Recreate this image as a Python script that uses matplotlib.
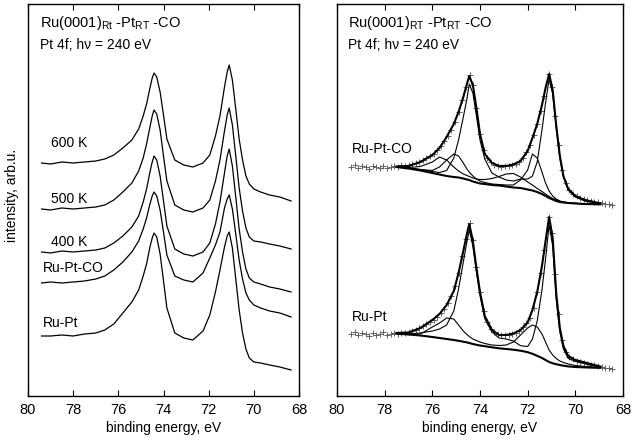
import matplotlib
matplotlib.use("Agg")
import matplotlib.pyplot as plt

plt.rcParams['font.family'] = ['Liberation Sans', 'DejaVu Sans']
plt.rcParams['mathtext.fontset'] = 'custom'
plt.rcParams['mathtext.rm'] = 'Liberation Sans'
plt.rcParams['mathtext.it'] = 'Liberation Sans:italic'
plt.rcParams['mathtext.default'] = 'regular'

# ---------------------------------------------------------------
# Left panel : Pt 4f spectra, offset (binding energy in eV)
# ---------------------------------------------------------------
energy_left = [79.4, 79.0, 78.5, 78.0, 77.5, 77.0, 76.6, 76.2, 75.8, 75.4, 75.1,
               74.9, 74.75, 74.6, 74.5, 74.42, 74.3, 74.15, 74.0, 73.85, 73.5,
               73.1, 72.7, 72.25, 71.95, 71.7, 71.5, 71.3, 71.18, 71.09, 70.95,
               70.8, 70.65, 70.5, 70.35, 70.2, 70.0, 69.7, 69.3, 68.85, 68.35]

spec_600K = [233, 232, 234, 233, 234, 235, 237, 241, 248, 256, 267, 280, 292, 308,
             318, 323, 319, 304, 281, 257, 236, 231, 229, 233, 241, 260, 280, 309,
             324, 331, 316, 287, 257, 236, 220, 212, 207, 204, 201, 199, 195]
spec_500K = [187, 186, 188, 187, 188, 189, 191, 196, 204, 213, 225, 238, 252, 269,
             280, 286, 282, 266, 240, 215, 191, 186, 184, 188, 196, 215, 236, 265,
             281, 288, 271, 240, 208, 185, 168, 159, 155, 154, 152, 150, 147]
spec_400K = [144, 143, 145, 144, 145, 146, 148, 153, 160, 169, 180, 194, 207, 224,
             234, 240, 236, 220, 195, 170, 147, 142, 140, 144, 153, 172, 194, 223,
             240, 247, 230, 199, 167, 144, 127, 118, 114, 112, 109, 107, 104]
spec_rupt_co = [113, 114, 113, 114, 115, 117, 120, 126, 134, 144, 155, 167, 178, 192,
                200, 204, 200, 186, 164, 141, 120, 116, 114, 123, 138, 151, 164, 188,
                197, 201, 187, 162, 136, 117, 103, 96, 91, 88, 85, 83, 79]
spec_rupt = [60, 60, 61, 60, 62, 63, 66, 72, 83, 94, 106, 120, 132, 149,
             158, 163, 159, 142, 115, 88, 63, 58, 56, 65, 81, 104, 126, 149,
             160, 164, 148, 117, 86, 63, 47, 38, 34, 33, 31, 29, 26]

left_labels = ["600 K", "500 K", "400 K", "Ru-Pt-CO", "Ru-Pt"]
left_label_x = [79.0, 79.0, 79.0, 79.35, 79.35]
left_label_y = [253, 197, 154, 128, 73]

# ---------------------------------------------------------------
# Right panel : measured points + fit (background and components)
# ---------------------------------------------------------------
energy_pts = [79.4, 79.25, 79.1, 78.95, 78.8, 78.65, 78.5, 78.35, 78.2, 78.05, 77.9,
              77.75, 77.6, 77.45, 77.3, 77.15, 77.0, 76.85, 76.7, 76.55, 76.4, 76.25,
              76.1, 75.95, 75.8, 75.65, 75.5, 75.35, 75.2, 75.05, 74.9, 74.75, 74.6,
              74.42, 74.3, 74.15, 74.0, 73.85, 73.7, 73.55, 73.4, 73.25, 73.1, 72.95,
              72.8, 72.65, 72.5, 72.35, 72.2, 72.05, 71.9, 71.75, 71.6, 71.45, 71.3,
              71.1, 71.0, 70.85, 70.7, 70.55, 70.4, 70.25, 70.1, 69.95, 69.8, 69.65,
              69.5, 69.35, 69.2, 69.05, 68.9, 68.75, 68.6, 68.45]

pts_rupt_co = [229, 231, 228, 230, 229, 227, 230, 229, 228, 230, 228, 229, 230, 229,
               231, 230, 231, 232, 233, 234, 236, 238, 240, 242, 246, 250, 255, 260,
               266, 274, 284, 296, 309, 321, 311, 288, 262, 246, 238, 234, 231, 230,
               229, 230, 230, 231, 232, 234, 238, 244, 251, 261, 272, 285, 300, 322,
               309, 280, 251, 226, 213, 206, 202, 200, 198, 197, 196, 195, 194, 194,
               193, 192, 192, 191]
pts_rupt = [62, 64, 61, 63, 62, 60, 63, 61, 62, 64, 61, 62, 63, 62, 63, 63, 64, 65,
            66, 68, 70, 72, 74, 76, 79, 83, 87, 93, 100, 110, 123, 140, 157, 173, 156,
            129, 104, 85, 74, 67, 64, 62, 61, 61, 61, 62, 63, 65, 69, 73, 78, 88, 104,
            123, 146, 179, 163, 122, 82, 56, 44, 39, 37, 35, 34, 33, 32, 31, 31, 30,
            29, 28, 28, 27]

energy_fit = [77.5, 77.0, 76.5, 76.0, 75.7, 75.4, 75.1, 74.9, 74.7, 74.55, 74.45,
              74.3, 74.15, 74.0, 73.8, 73.5, 73.2, 72.9, 72.6, 72.3, 72.0, 71.8, 71.6,
              71.4, 71.25, 71.1, 70.95, 70.8, 70.65, 70.5, 70.3, 70.0, 69.6, 69.2, 68.95]

# Ru-Pt-CO fit
co_background = [229, 227.5, 225.5, 223, 221.5, 220, 219, 218.5, 217.5, 216.5, 216,
                 214.5, 213.5, 212.5, 212, 211, 210.5, 209.5, 208.5, 208, 206.5, 205.5,
                 204, 202, 200, 198, 196.5, 195, 194, 193.5, 193, 192.5, 192, 191.8, 191.7]
co_main = [229, 228, 226.5, 224.5, 223.5, 225.5, 238, 256, 279, 297, 312, 303, 280,
           256, 237, 223, 219, 216, 215, 217, 217, 220, 234, 266, 293, 317, 302, 268,
           238, 219, 206, 199, 195, 193, 192.5]
co_comp_a = [229, 228, 226.5, 225.5, 229, 236, 242, 240, 233, 227, 224, 220, 217, 215,
             213.5, 212, 211.5, 211, 211, 216, 226, 242, 238, 224, 213, 205, 200, 197,
             195, 194, 193.3, 192.7, 192.1, 191.8, 191.7]
co_comp_b = [229, 228.5, 229.5, 234, 239, 236, 229, 225, 222, 220.5, 219.5, 218, 217,
             216.5, 216.5, 217.5, 219.5, 222, 222.5, 219, 214, 211, 207.5, 204.5, 202,
             199.5, 197.5, 196, 194.7, 194, 193.3, 192.7, 192.1, 191.8, 191.7]
co_envelope = [229.5, 230, 234, 241, 248, 259, 272, 284, 299, 312, 320, 311, 288, 262,
               242, 233, 230, 230, 231.5, 235, 245, 258, 272, 291, 308, 322, 306, 270,
               240, 220, 207, 200, 196, 194, 192.5]

# Ru-Pt fit
pt_background = [62.5, 61.5, 60.5, 59, 58, 57, 56, 55.2, 54.3, 53.6, 53, 52, 51.2,
                 50.5, 49.8, 48.7, 47.7, 47, 46.3, 45.3, 43.8, 42.2, 40.2, 38, 36, 34,
                 32.7, 31.8, 31, 30.3, 29.6, 29, 28.6, 28.3, 28.1]
pt_main = [62.5, 62, 63, 65, 67, 71, 85, 107, 134, 154, 166, 150, 124, 100.5, 77.3,
           64, 58, 57, 55, 50.3, 49.5, 57, 75, 106, 137, 171, 150, 96, 64, 47, 37.6,
           34.5, 32.6, 30.3, 29.2]
pt_comp_a = [62.5, 62, 62, 69, 73, 78, 77, 71, 65, 61.5, 59.5, 57, 55.5, 54, 52.5, 51,
             50.5, 51, 54, 61, 68, 71, 69, 62, 54, 46, 41, 37.5, 35, 33.5, 32, 30.5,
             29.5, 29, 28.5]
pt_envelope = [63, 63.5, 68, 76, 82, 91, 105, 123, 145, 162, 172, 155, 128, 104, 80,
               66, 61, 61, 62.5, 66, 73.5, 86, 104, 130, 155, 179, 158, 102, 68, 50,
               40, 36, 33.5, 31, 29.5]

right_labels = ["Ru-Pt-CO", "Ru-Pt"]
right_label_x = [79.37, 79.37]
right_label_y = [247, 79]

ticks = [80, 78, 76, 74, 72, 70, 68]

# ---------------------------------------------------------------
# Figure
# ---------------------------------------------------------------
fig = plt.figure(figsize=(6.32, 4.43), dpi=100)
axL = fig.add_axes([28 / 632, 47 / 443, 271 / 632, 392 / 443])
axR = fig.add_axes([337 / 632, 47 / 443, 286 / 632, 392 / 443])

for ax in (axL, axR):
    ax.set_xlim(80, 68)
    ax.set_ylim(0, 392)
    ax.set_xticks(ticks)
    ax.set_yticks([])
    ax.tick_params(axis='x', direction='in', top=True, length=4, width=0.8,
                   pad=5, labelsize=10.5)
    for sp in ax.spines.values():
        sp.set_linewidth(1.0)
    ax.set_xlabel("binding energy, eV", fontsize=10, labelpad=3)

# left panel
for spec in (spec_600K, spec_500K, spec_400K, spec_rupt_co, spec_rupt):
    axL.plot(energy_left, spec, color='black', lw=0.9)
for lab, x, y in zip(left_labels, left_label_x, left_label_y):
    axL.text(x, y, lab, fontsize=10, ha='left', va='center')
axL.text(79.47, 373, "Ru(0001)$_{Rt}$ -Pt$_{RT}$ -CO", fontsize=10.5, ha='left', va='center')
axL.text(79.47, 351, "Pt 4f; h\u03bd = 240 eV", fontsize=10, ha='left', va='center')

# right panel
for pts in (pts_rupt_co, pts_rupt):
    axR.plot(energy_pts, pts, ls='none', marker='+', ms=4.5, mew=0.7, color='#606060')
for comp in (co_main, co_comp_a, co_comp_b, pt_main, pt_comp_a):
    axR.plot(energy_fit, comp, color='black', lw=0.8)
for bg in (co_background, pt_background):
    axR.plot(energy_fit, bg, color='black', lw=1.5)
for env in (co_envelope, pt_envelope):
    axR.plot(energy_fit, env, color='black', lw=1.5)
for lab, x, y in zip(right_labels, right_label_x, right_label_y):
    axR.text(x, y, lab, fontsize=10, ha='left', va='center')
axR.text(79.54, 373, "Ru(0001)$_{RT}$ -Pt$_{RT}$ -CO", fontsize=10.5, ha='left', va='center')
axR.text(79.54, 351, "Pt 4f; h\u03bd = 240 eV", fontsize=10, ha='left', va='center')

fig.text(12 / 632, 1 - 195 / 443, "intensity, arb.u.", rotation=90,
         ha='center', va='center', fontsize=10)

fig.savefig("out.png", dpi=100)
